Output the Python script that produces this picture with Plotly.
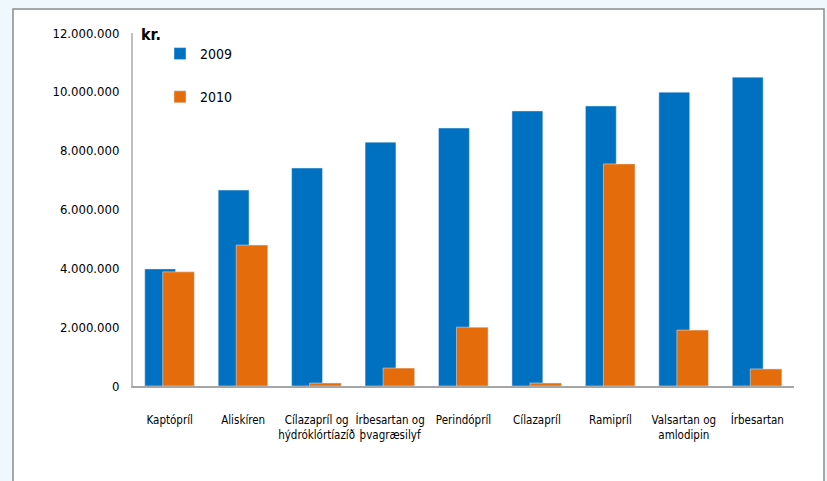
import plotly.graph_objects as go

categories = ["Kaptópríl", "Aliskíren", "Cílazapríl og<br>hýdróklórtíazíð",
              "Írbesartan og<br>þvagræsilyf", "Perindópríl", "Cílazapríl",
              "Ramipríl", "Valsartan og<br>amlodipin", "Írbesartan"]
values_2009 = [3980000, 6660000, 7410000, 8290000, 8770000, 9350000, 9520000, 9990000, 10500000]
values_2010 = [3880000, 4790000, 100000, 610000, 2000000, 100000, 7550000, 1900000, 580000]
tick_vals = [0, 2000000, 4000000, 6000000, 8000000, 10000000, 12000000]

FONT = "DejaVu Sans Condensed, Liberation Sans Narrow, Liberation Sans, sans-serif"
W, H = 827, 481
L, R, T, B = 133, 33, 33, 95
pw, ph = W - L - R, H - T - B

def px(x):
    return (x - L) / pw

def py(y):
    return (H - B - y) / ph

fig = go.Figure()
fig.add_trace(go.Bar(x=categories, y=values_2009, name="2009", marker_color="#0070C0",
                     width=0.42, offset=-0.34, legendgroup="a"))
fig.add_trace(go.Bar(x=categories, y=values_2010, name="2010", marker_color="#E46C0A",
                     width=0.43, offset=-0.095, legendgroup="b"))

fig.update_layout(
    width=W, height=H,
    margin=dict(l=L, r=R, t=T, b=B, autoexpand=False),
    barmode="overlay",
    separators=",.",
    paper_bgcolor="#EFF8FC",
    plot_bgcolor="rgba(0,0,0,0)",
    font=dict(family=FONT, size=13, color="#000000"),
    showlegend=True,
    legend=dict(x=px(160), y=py(38), xanchor="left", yanchor="top",
                bgcolor="rgba(0,0,0,0)", tracegroupgap=22,
                itemwidth=30,
                font=dict(family=FONT, size=14)),
    xaxis=dict(showline=True, linecolor="#A6A6A6", linewidth=2, ticks="",
               tickangle=0, automargin=False,
               tickfont=dict(family=FONT, size=11.5), ticklabelstandoff=22),
    yaxis=dict(range=[0, 12000000], tickvals=tick_vals, tickformat=",d",
               showgrid=False, zeroline=False, showline=True, linecolor="#BFBFBF",
               linewidth=2, ticks="", ticklabelstandoff=9, automargin=False,
               tickfont=dict(family=FONT, size=13)),
    shapes=[dict(type="rect", xref="paper", yref="paper",
                 x0=px(13), x1=px(824), y0=py(495), y1=py(9),
                 fillcolor="#FFFFFF", line=dict(color="#8C8C8C", width=1.5),
                 layer="below")],
    annotations=[dict(text="<b>kr.</b>", xref="paper", yref="paper",
                      x=px(139), y=py(35), xanchor="left", yanchor="middle",
                      showarrow=False, font=dict(family=FONT, size=16))],
)

fig.write_html("out.html", config={"displayModeBar": False},
               post_script="document.body.style.margin='0';document.body.style.background='#EFF8FC';")
